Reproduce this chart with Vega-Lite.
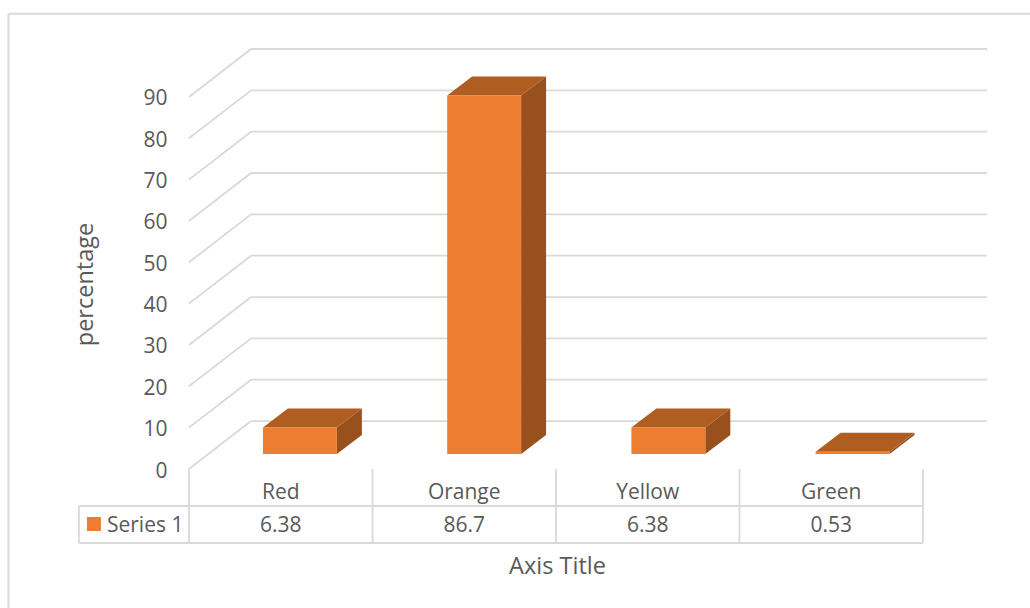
{
  "$schema": "https://vega.github.io/schema/vega-lite/v6.json",
  "width": 798,
  "height": 420,
  "autosize": {"type": "none"},
  "padding": {"left": 189, "right": 43, "top": 49, "bottom": 139},
  "background": "white",
  "config": {
    "view": {"stroke": null},
    "font": "Open Sans",
    "text": {"font": "Open Sans", "fontSize": 21, "color": "#595959", "baseline": "middle"}
  },
  "datasets": {
    "shares": [
      {"category": "Red", "value": 6.38},
      {"category": "Orange", "value": 86.7},
      {"category": "Yellow", "value": 6.38},
      {"category": "Green", "value": 0.53}
    ],
    "ticks": [
      {"level": 0}, {"level": 10}, {"level": 20}, {"level": 30}, {"level": 40},
      {"level": 50}, {"level": 60}, {"level": 70}, {"level": 80}, {"level": 90}
    ],
    "columns": [{"edge": 0}, {"edge": 1}, {"edge": 2}, {"edge": 3}, {"edge": 4}],
    "once": [{"series": "Series 1"}]
  },
  "layer": [
    {
      "description": "Outer chart frame: left edge",
      "data": {"name": "once"},
      "transform": [
        {"calculate": "-0.984", "as": "a"},
        {"calculate": "110.1", "as": "b"},
        {"calculate": "-34", "as": "c"}
      ],
      "mark": {"type": "rule", "stroke": "#d9d9d9", "strokeWidth": 2},
      "encoding": {
        "x": {"field": "a", "type": "quantitative", "scale": {"domain": [0, 4.349], "nice": false, "zero": false}},
        "y": {"field": "b", "type": "quantitative", "scale": {"domain": [0, 101.6], "nice": false, "zero": false}},
        "y2": {"field": "c"}
      }
    },
    {
      "description": "Outer chart frame: top edge",
      "data": {"name": "once"},
      "transform": [
        {"calculate": "-0.984", "as": "a"},
        {"calculate": "4.59", "as": "b"},
        {"calculate": "110.1", "as": "c"}
      ],
      "mark": {"type": "rule", "stroke": "#d9d9d9", "strokeWidth": 2},
      "encoding": {
        "x": {"field": "a", "type": "quantitative", "scale": {"domain": [0, 4.349], "nice": false, "zero": false}},
        "x2": {"field": "b"},
        "y": {"field": "c", "type": "quantitative", "scale": {"domain": [0, 101.6], "nice": false, "zero": false}}
      }
    },
    {
      "description": "Side-wall gridlines running back from the value axis; also carries both axes",
      "data": {"name": "ticks"},
      "transform": [
        {"calculate": "0", "as": "wallFront"},
        {"calculate": "0.338", "as": "wallX"},
        {"calculate": "datum.level + 11.6", "as": "wallLevel"}
      ],
      "mark": {"type": "rule", "stroke": "#d9d9d9", "strokeWidth": 1.8},
      "encoding": {
        "x": {
          "field": "wallFront",
          "type": "quantitative",
          "scale": {"domain": [0, 4.349], "nice": false, "zero": false},
          "axis": {
            "title": "Axis Title",
            "domain": false, "ticks": false, "labels": false, "grid": false,
            "titleFont": "Open Sans", "titleFontSize": 23.5, "titleFontWeight": "normal", "titleColor": "#595959",
            "titleX": 368, "titleY": 97, "titleAlign": "center", "titleBaseline": "middle"
          }
        },
        "x2": {"field": "wallX"},
        "y": {
          "field": "level",
          "type": "quantitative",
          "scale": {"domain": [0, 101.6], "nice": false, "zero": false},
          "axis": {
            "title": "percentage",
            "values": [0, 10, 20, 30, 40, 50, 60, 70, 80, 90],
            "domain": false, "ticks": false, "grid": false,
            "labelPadding": 22, "labelOffset": 2, "labelFont": "Open Sans", "labelFontSize": 21, "labelColor": "#595959",
            "titleFont": "Open Sans", "titleFontSize": 23.5, "titleFontWeight": "normal", "titleColor": "#595959",
            "titleX": -104, "titleY": 235, "titleAlign": "center", "titleBaseline": "middle", "titleAngle": -90
          }
        },
        "y2": {"field": "wallLevel"}
      }
    },
    {
      "description": "Back-wall gridlines",
      "data": {"name": "ticks"},
      "transform": [
        {"calculate": "0.338", "as": "a"},
        {"calculate": "4.349", "as": "b"},
        {"calculate": "datum.level + 11.6", "as": "wallLevel"}
      ],
      "mark": {"type": "rule", "stroke": "#d9d9d9", "strokeWidth": 1.8},
      "encoding": {
        "x": {"field": "a", "type": "quantitative", "scale": {"domain": [0, 4.349], "nice": false, "zero": false}},
        "x2": {"field": "b"},
        "y": {"field": "wallLevel", "type": "quantitative", "scale": {"domain": [0, 101.6], "nice": false, "zero": false}}
      }
    },
    {
      "description": "Data table: column dividers",
      "data": {"name": "columns"},
      "transform": [
        {"calculate": "0", "as": "a"},
        {"calculate": "-17.9", "as": "b"}
      ],
      "mark": {"type": "rule", "stroke": "#d9d9d9", "strokeWidth": 1.8},
      "encoding": {
        "x": {"field": "edge", "type": "quantitative", "scale": {"domain": [0, 4.349], "nice": false, "zero": false}},
        "y": {"field": "a", "type": "quantitative", "scale": {"domain": [0, 101.6], "nice": false, "zero": false}},
        "y2": {"field": "b"}
      }
    },
    {
      "description": "Data table: rule between header and values",
      "data": {"name": "once"},
      "transform": [
        {"calculate": "-0.6", "as": "a"},
        {"calculate": "4", "as": "b"},
        {"calculate": "-8.95", "as": "c"}
      ],
      "mark": {"type": "rule", "stroke": "#d9d9d9", "strokeWidth": 1.8},
      "encoding": {
        "x": {"field": "a", "type": "quantitative", "scale": {"domain": [0, 4.349], "nice": false, "zero": false}},
        "x2": {"field": "b"},
        "y": {"field": "c", "type": "quantitative", "scale": {"domain": [0, 101.6], "nice": false, "zero": false}}
      }
    },
    {
      "description": "Data table: bottom rule",
      "data": {"name": "once"},
      "transform": [
        {"calculate": "-0.6", "as": "a"},
        {"calculate": "4", "as": "b"},
        {"calculate": "-17.9", "as": "c"}
      ],
      "mark": {"type": "rule", "stroke": "#d9d9d9", "strokeWidth": 1.8},
      "encoding": {
        "x": {"field": "a", "type": "quantitative", "scale": {"domain": [0, 4.349], "nice": false, "zero": false}},
        "x2": {"field": "b"},
        "y": {"field": "c", "type": "quantitative", "scale": {"domain": [0, 101.6], "nice": false, "zero": false}}
      }
    },
    {
      "description": "Data table: left edge of the series cell",
      "data": {"name": "once"},
      "transform": [
        {"calculate": "-0.6", "as": "a"},
        {"calculate": "-8.95", "as": "b"},
        {"calculate": "-17.9", "as": "c"}
      ],
      "mark": {"type": "rule", "stroke": "#d9d9d9", "strokeWidth": 1.8},
      "encoding": {
        "x": {"field": "a", "type": "quantitative", "scale": {"domain": [0, 4.349], "nice": false, "zero": false}},
        "y": {"field": "b", "type": "quantitative", "scale": {"domain": [0, 101.6], "nice": false, "zero": false}},
        "y2": {"field": "c"}
      }
    },
    {
      "description": "Right-hand side of each 3D column",
      "data": {"name": "shares"},
      "transform": [
        {"calculate": "indexof(['Red','Orange','Yellow','Green'], datum.category) * 1.004", "as": "slot"},
        {"calculate": "[0, 1]", "as": "depth"},
        {"flatten": ["depth"]},
        {"calculate": "datum.slot + 0.806 + datum.depth * 0.136", "as": "sideX"},
        {"calculate": "3.63 + datum.depth * 4.6", "as": "sideBase"},
        {"calculate": "3.63 + datum.value + datum.depth * 4.6", "as": "sideTop"}
      ],
      "mark": {"type": "area", "orient": "vertical", "fill": "#98511c"},
      "encoding": {
        "x": {"field": "sideX", "type": "quantitative", "scale": {"domain": [0, 4.349], "nice": false, "zero": false}},
        "y": {"field": "sideBase", "type": "quantitative", "scale": {"domain": [0, 101.6], "nice": false, "zero": false}},
        "y2": {"field": "sideTop"},
        "detail": {"field": "category", "type": "nominal"}
      }
    },
    {
      "description": "Top face of each 3D column",
      "data": {"name": "shares"},
      "transform": [
        {"calculate": "indexof(['Red','Orange','Yellow','Green'], datum.category) * 1.004", "as": "slot"},
        {"calculate": "[0, 1]", "as": "depth"},
        {"flatten": ["depth"]},
        {"calculate": "datum.slot + 0.403 + datum.depth * 0.136", "as": "topLeft"},
        {"calculate": "datum.slot + 0.806 + datum.depth * 0.136", "as": "topRight"},
        {"calculate": "3.63 + datum.value + datum.depth * 4.6", "as": "topLevel"}
      ],
      "mark": {"type": "area", "orient": "horizontal", "fill": "#b05d22"},
      "encoding": {
        "x": {"field": "topLeft", "type": "quantitative", "scale": {"domain": [0, 4.349], "nice": false, "zero": false}},
        "x2": {"field": "topRight"},
        "y": {"field": "topLevel", "type": "quantitative", "scale": {"domain": [0, 101.6], "nice": false, "zero": false}},
        "detail": {"field": "category", "type": "nominal"}
      }
    },
    {
      "description": "Front face of each 3D column",
      "data": {"name": "shares"},
      "transform": [
        {"calculate": "indexof(['Red','Orange','Yellow','Green'], datum.category) * 1.004", "as": "slot"},
        {"calculate": "datum.slot + 0.403", "as": "left"},
        {"calculate": "datum.slot + 0.806", "as": "right"},
        {"calculate": "3.63", "as": "floor"},
        {"calculate": "3.63 + datum.value", "as": "front"}
      ],
      "mark": {"type": "rect", "fill": "#ed7d31"},
      "encoding": {
        "x": {"field": "left", "type": "quantitative", "scale": {"domain": [0, 4.349], "nice": false, "zero": false}},
        "x2": {"field": "right"},
        "y": {"field": "floor", "type": "quantitative", "scale": {"domain": [0, 101.6], "nice": false, "zero": false}},
        "y2": {"field": "front"}
      }
    },
    {
      "description": "Data table: category headers",
      "data": {"name": "shares"},
      "transform": [
        {"calculate": "indexof(['Red','Orange','Yellow','Green'], datum.category) + 0.5", "as": "mid"},
        {"calculate": "-5.7", "as": "row"}
      ],
      "mark": {"type": "text", "align": "center"},
      "encoding": {
        "x": {"field": "mid", "type": "quantitative", "scale": {"domain": [0, 4.349], "nice": false, "zero": false}},
        "y": {"field": "row", "type": "quantitative", "scale": {"domain": [0, 101.6], "nice": false, "zero": false}},
        "text": {"field": "category", "type": "nominal"}
      }
    },
    {
      "description": "Data table: values",
      "data": {"name": "shares"},
      "transform": [
        {"calculate": "indexof(['Red','Orange','Yellow','Green'], datum.category) + 0.5", "as": "mid"},
        {"calculate": "-13.9", "as": "row"}
      ],
      "mark": {"type": "text", "align": "center"},
      "encoding": {
        "x": {"field": "mid", "type": "quantitative", "scale": {"domain": [0, 4.349], "nice": false, "zero": false}},
        "y": {"field": "row", "type": "quantitative", "scale": {"domain": [0, 101.6], "nice": false, "zero": false}},
        "text": {"field": "value", "type": "quantitative"}
      }
    },
    {
      "description": "Data table: series key swatch",
      "data": {"name": "once"},
      "transform": [
        {"calculate": "-0.518", "as": "a"},
        {"calculate": "-13.3", "as": "b"}
      ],
      "mark": {"type": "point", "shape": "square", "filled": true, "fill": "#ed7d31", "opacity": 1, "size": 196},
      "encoding": {
        "x": {"field": "a", "type": "quantitative", "scale": {"domain": [0, 4.349], "nice": false, "zero": false}},
        "y": {"field": "b", "type": "quantitative", "scale": {"domain": [0, 101.6], "nice": false, "zero": false}}
      }
    },
    {
      "description": "Data table: series name",
      "data": {"name": "once"},
      "transform": [
        {"calculate": "-0.447", "as": "a"},
        {"calculate": "-13.9", "as": "b"}
      ],
      "mark": {"type": "text", "align": "left"},
      "encoding": {
        "x": {"field": "a", "type": "quantitative", "scale": {"domain": [0, 4.349], "nice": false, "zero": false}},
        "y": {"field": "b", "type": "quantitative", "scale": {"domain": [0, 101.6], "nice": false, "zero": false}},
        "text": {"field": "series", "type": "nominal"}
      }
    }
  ]
}
